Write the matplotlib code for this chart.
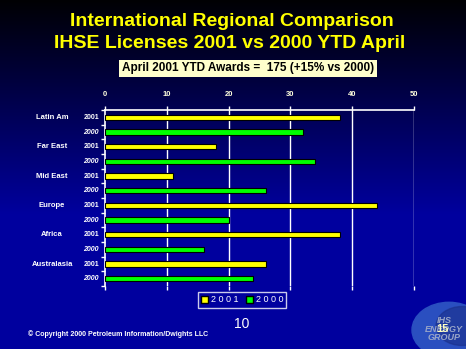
import numpy as np
import matplotlib
matplotlib.use("Agg")
import matplotlib.pyplot as plt
from matplotlib.patches import Circle, Rectangle

regions = ["Latin Am", "Far East", "Mid East", "Europe", "Africa", "Australasia"]
years = ["2001", "2000"]
values_2001 = [38, 18, 11, 44, 38, 26]
values_2000 = [32, 34, 26, 20, 16, 24]
x_ticks = [0, 10, 20, 30, 40, 50]

W, H = 466, 349
fig = plt.figure(figsize=(W / 100, H / 100), dpi=100)

# background gradient
bg = fig.add_axes([0, 0, 1, 1])
grad = np.linspace(0, 1, 256)
r = np.zeros_like(grad)
g = np.zeros_like(grad)
b = np.clip(0.02 + grad * 1.6, 0, 1) * 0.62
img = np.stack([r, g, b], axis=-1)[:, None, :].repeat(2, axis=1)
bg.imshow(img, aspect="auto", extent=[0, 1, 0, 1], origin="upper")
bg.set_xlim(0, 1)
bg.set_ylim(0, 1)
bg.axis("off")

# globe logo
globe = Circle((449 / W, 1 - 330 / H), 37 / W, transform=bg.transAxes, color="#2a4fc0", zorder=2)
bg.add_patch(globe)
globe2 = Circle((462 / W, 1 - 326 / H), 26 / W, transform=bg.transAxes, color="#1a2f8a", alpha=0.6, zorder=2)
bg.add_patch(globe2)
bg.text(444 / W, 1 - 329 / H, "IHS\nENERGY\nGROUP", color="#9aa6c8", fontsize=6.5, fontweight="bold",
        style="italic", ha="center", va="center", linespacing=0.9, family="Liberation Sans", zorder=3)
bg.text(442 / W, 1 - 329 / H, "15", color="#ffffc0", fontsize=8, fontweight="bold", ha="center",
        va="center", family="Liberation Sans", zorder=4)

# titles
fig.text(232 / W, 1 - 21 / H, "International Regional Comparison", color="#ffff00", fontsize=14,
         fontweight="bold", ha="center", va="center", family="Liberation Sans")
fig.text(230 / W, 1 - 43 / H, "IHSE Licenses 2001 vs 2000 YTD April", color="#ffff00", fontsize=14,
         fontweight="bold", ha="center", va="center", family="Liberation Sans")
fig.text(248 / W, 1 - 68.5 / H, "April 2001 YTD Awards =  175 (+15% vs 2000)", color="black", fontsize=8.5,
         fontweight="bold", ha="center", va="center", family="Liberation Sans",
         bbox=dict(boxstyle="square,pad=0.25", fc="#ffffcc", ec="none"))

# chart
ax = fig.add_axes([105 / W, 1 - 286 / H, (414 - 105) / W, (286 - 110) / H])
ax.set_facecolor("none")
n = len(regions)
pos = np.arange(2 * n)
vals = []
cols = []
for a, c in zip(values_2001, values_2000):
    vals += [a, c]
    cols += ["#ffff00", "#00ff00"]
ax.barh(pos, vals, height=0.37, color=cols, edgecolor="black", linewidth=0.8, zorder=3)
ax.set_xlim(0, 50)
ax.set_ylim(2 * n - 1 + 0.36, -0.49)
ax.set_xticks(x_ticks)
ax.set_xticklabels([str(t) for t in x_ticks], color="#ffffdd", fontsize=5.5, fontweight="bold",
                   family="Liberation Sans")
ax.xaxis.tick_top()
ax.tick_params(axis="x", which="both", top=True, bottom=True, color="white", length=3, width=1, pad=6)
for t in x_ticks[1:]:
    ax.axvline(t, color="white", lw=1, zorder=1)
for s in ["right", "bottom"]:
    ax.spines[s].set_visible(False)
for s in ["top", "left"]:
    ax.spines[s].set_color("white")
    ax.spines[s].set_linewidth(1.2)
ax.set_yticks(np.arange(-0.5, 2 * n, 1))
ax.set_yticklabels([])
ax.tick_params(axis="y", color="white", length=3, width=1, direction="out")

trans = ax.get_yaxis_transform()
for i, reg in enumerate(regions):
    for j, yr in enumerate(years):
        p = 2 * i + j
        ax.text(-6 / 309, p, yr, transform=trans, color="white", fontsize=5, fontweight="bold",
                ha="right", va="center", family="Liberation Sans", style="italic" if j else "normal")
    ax.text((52 - 105) / 309, 2 * i, reg, transform=trans, color="white", fontsize=5.5,
            fontweight="bold", ha="center", va="center", family="Liberation Sans")

# legend
leg_handles = [Rectangle((0, 0), 1, 1, fc="#ffff00", ec="black"),
               Rectangle((0, 0), 1, 1, fc="#00ff00", ec="black")]
leg = fig.legend(leg_handles, ["2 0 0 1", "2 0 0 0"], loc="center", bbox_to_anchor=(242 / W, 1 - 300 / H),
                 ncol=2, frameon=True, handlelength=0.8, handleheight=0.8,
                 handletextpad=0.3, columnspacing=0.8, borderpad=0.35, fancybox=False,
                 prop=dict(family="Liberation Sans", size=6.5))
leg.get_frame().set_facecolor("#0000a0")
leg.get_frame().set_edgecolor("white")
leg.get_frame().set_linewidth(1)
for t in leg.get_texts():
    t.set_color("white")

fig.text(242 / W, 1 - 324 / H, "10", color="white", fontsize=10, ha="center", va="center",
         family="Liberation Sans")
fig.text(28 / W, 1 - 334 / H, "\u00a9 Copyright 2000 Petroleum Information/Dwights LLC", color="white",
         fontsize=5, fontweight="bold", ha="left", va="center", family="Liberation Sans")

fig.savefig("out.png", dpi=100)
